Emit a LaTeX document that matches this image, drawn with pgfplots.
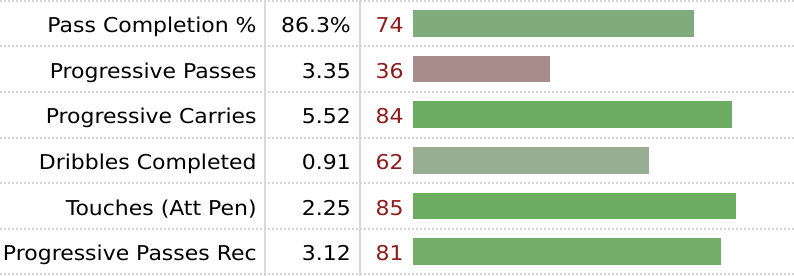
\documentclass[border=0pt]{standalone}
\usepackage{pgfplots}
\pgfplotsset{compat=1.18}
\usepackage{fontspec}
\setmainfont{DejaVu Sans}[FakeStretch=1.075]
\definecolor{pctred}{HTML}{8E1B1B}
\definecolor{gridgray}{HTML}{D9D9D9}
\definecolor{dotgray}{HTML}{D4D4D4}
\definecolor{c74}{HTML}{80AC7B}
\definecolor{c36}{HTML}{A88B8B}
\definecolor{c84}{HTML}{6CAD62}
\definecolor{c62}{HTML}{98AE93}
\definecolor{c85}{HTML}{6DAD62}
\definecolor{c81}{HTML}{74AD6A}
\begin{document}
\begin{tikzpicture}
\begin{axis}[
  scale only axis,
  width=794bp, height=276bp,
  xmin=-108.68, xmax=100.26,
  ymin=-0.515, ymax=5.534,
  y dir=reverse,
  axis line style={draw=none},
  xtick={-38.95,-13.95}, xticklabels={},
  ytick={-0.5,0.5,1.5,2.5,3.5,4.5,5.5}, yticklabels={},
  xmajorgrids, ymajorgrids,
  every axis x grid/.style={gridgray, line width=2bp, solid},
  every axis y grid/.style={dotgray, line width=2bp, dash pattern=on 2bp off 2bp},
  major tick length=0pt,
  clip=false,
  xbar, bar shift=0pt, bar width=26.7bp,
]
\addplot[xbar, fill=c74, draw=none] coordinates {(74,0)};
\addplot[xbar, fill=c36, draw=none] coordinates {(36,1)};
\addplot[xbar, fill=c84, draw=none] coordinates {(84,2)};
\addplot[xbar, fill=c62, draw=none] coordinates {(62,3)};
\addplot[xbar, fill=c85, draw=none] coordinates {(85,4)};
\addplot[xbar, fill=c81, draw=none] coordinates {(81,5)};
% names
\addplot[only marks, mark=none, nodes near coords, point meta=explicit symbolic,
  every node near coord/.style={anchor=base east, font=\fontsize{20.5}{24}\selectfont, black, yshift=-9bp, inner sep=0pt}]
  table[x=x, y=y, meta=t, col sep=comma] {
x,y,t
-41.1,0,Pass Completion \%
-41.1,1,Progressive Passes
-41.1,2,Progressive Carries
-41.1,3,Dribbles Completed
-41.1,4,Touches (Att Pen)
-41.1,5,Progressive Passes Rec
};
% values
\addplot[only marks, mark=none, nodes near coords, point meta=explicit symbolic,
  every node near coord/.style={anchor=base east, font=\fontsize{20.5}{24}\selectfont, black, yshift=-9bp, inner sep=0pt}]
  table[x=x, y=y, meta=t, col sep=comma] {
x,y,t
-16.3,0,86.3\%
-16.3,1,3.35
-16.3,2,5.52
-16.3,3,0.91
-16.3,4,2.25
-16.3,5,3.12
};
% percentiles
\addplot[only marks, mark=none, nodes near coords, point meta=explicit symbolic,
  every node near coord/.style={anchor=base east, font=\fontsize{20.5}{24}\selectfont, pctred, yshift=-9bp, inner sep=0pt}]
  table[x=x, y=y, meta=t, col sep=comma] {
x,y,t
-2.4,0,74
-2.4,1,36
-2.4,2,84
-2.4,3,62
-2.4,4,85
-2.4,5,81
};
\end{axis}
\pgfresetboundingbox
\path (current axis.south west) rectangle (current axis.north east);
\end{tikzpicture}
\end{document}
